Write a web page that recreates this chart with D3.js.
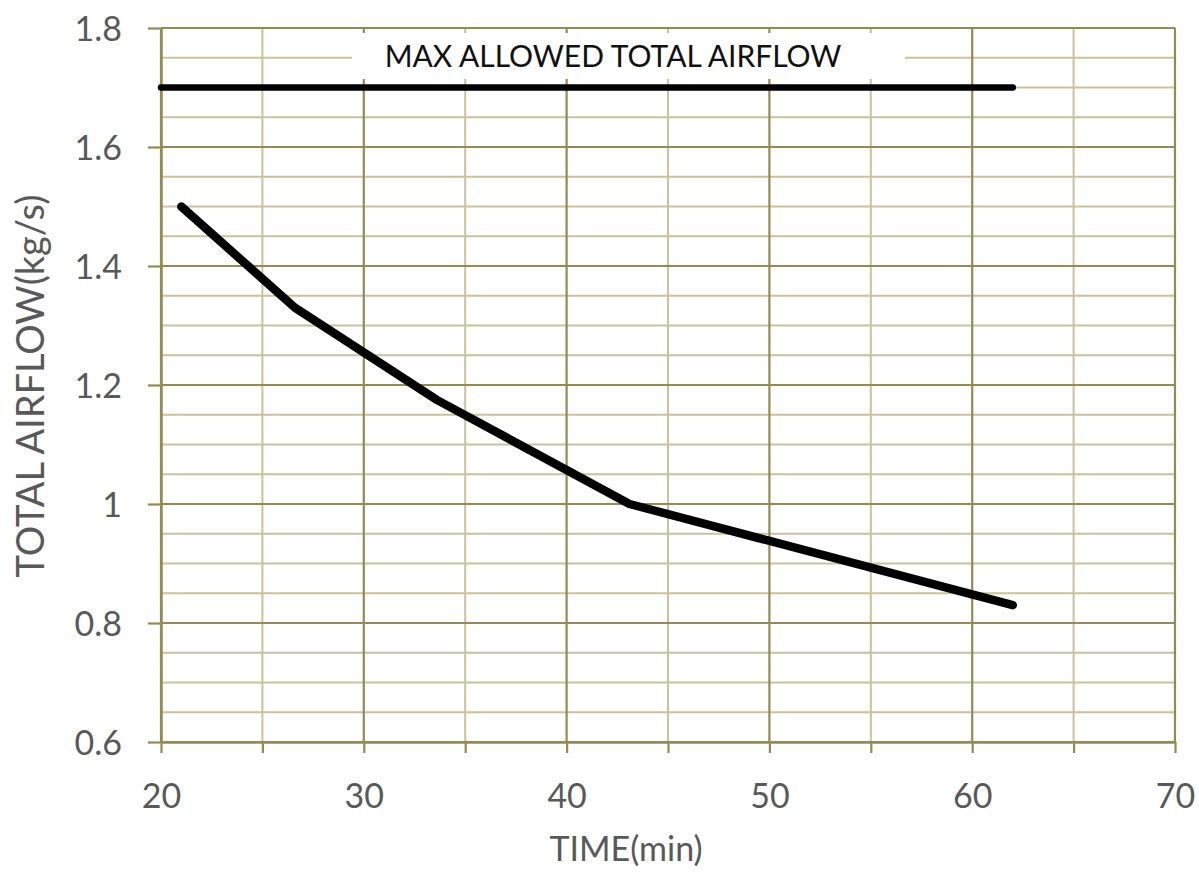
<!DOCTYPE html>
<html>
<head>
<meta charset="utf-8">
<script src="https://cdn.jsdelivr.net/npm/d3@7"></script>
<style>
  html, body { margin: 0; padding: 0; background: #ffffff; }
  svg { display: block; }
  text { font-family: Lato, "Open Sans", sans-serif; }
</style>
</head>
<body>
<svg id="chart" width="1199" height="881"></svg>
<script>
// ---- data ----
const timeMin = [21, 26.6, 33.6, 43.1, 62];
const totalAirflow = [1.5, 1.33, 1.175, 1.0, 0.83];
const maxTime = [20, 62];
const maxAirflow = [1.7, 1.7];
const xTicks = [20, 30, 40, 50, 60, 70];
const yTicks = [0.6, 0.8, 1, 1.2, 1.4, 1.6, 1.8];
const xGrid = [20, 25, 30, 35, 40, 45, 50, 55, 60, 65, 70];
const yGrid = d3.range(0, 25).map(i => +(0.6 + i * 0.05).toFixed(2));
const maxLabel = "MAX ALLOWED TOTAL AIRFLOW";
const xTitle = "TIME(min)";
const yTitle = "TOTAL AIRFLOW(kg/s)";

// ---- layout ----
const pL = 161, pR = 1175, pT = 28, pB = 742;
const dark = "#948a54", light = "#c9c29d", labelColor = "#595959";

const svg = d3.select("#chart");
const x = d3.scaleLinear().domain([20, 70]).range([pL, pR]);
const y = d3.scaleLinear().domain([0.6, 1.8]).range([pB, pT]);

const isMajorY = v => Math.abs(Math.round(v * 10) / 10 - v) < 1e-6 && Math.round(v * 10) % 2 === 0;

// light grid first
const g = svg.append("g");
g.selectAll("line.hy").data(yGrid.filter(v => !isMajorY(v))).join("line")
  .attr("x1", pL).attr("x2", pR)
  .attr("y1", d => y(d)).attr("y2", d => y(d))
  .attr("stroke", light).attr("stroke-width", 2);
g.selectAll("line.vx").data(xGrid.filter(v => v % 10 !== 0)).join("line")
  .attr("y1", pT).attr("y2", pB)
  .attr("x1", d => x(d)).attr("x2", d => x(d))
  .attr("stroke", light).attr("stroke-width", 2);
// dark grid
g.selectAll("line.hyd").data(yGrid.filter(v => isMajorY(v))).join("line")
  .attr("x1", pL).attr("x2", pR)
  .attr("y1", d => y(d)).attr("y2", d => y(d))
  .attr("stroke", dark).attr("stroke-width", 2.2);
g.selectAll("line.vxd").data(xGrid.filter(v => v % 10 === 0)).join("line")
  .attr("y1", pT).attr("y2", pB)
  .attr("x1", d => x(d)).attr("x2", d => x(d))
  .attr("stroke", dark).attr("stroke-width", 2.2);

// axes
const xAxis = d3.axisBottom(x).tickValues(xGrid).tickSize(11).tickSizeOuter(0)
  .tickFormat(d => xTicks.includes(d) ? d : "");
const yAxis = d3.axisLeft(y).tickValues(yTicks).tickSize(13).tickSizeOuter(0)
  .tickFormat(d => d3.format("~g")(d));

const gx = svg.append("g").attr("transform", `translate(0,${pB})`).call(xAxis);
gx.select(".domain").attr("stroke", dark).attr("stroke-width", 2.5);
gx.selectAll(".tick line").attr("stroke", dark).attr("stroke-width", 2.2);
gx.selectAll(".tick text").attr("fill", labelColor).attr("font-size", 34)
  .attr("font-family", "Lato, sans-serif").attr("y", 66).attr("dy", 0);

const gy = svg.append("g").attr("transform", `translate(${pL},0)`).call(yAxis);
gy.select(".domain").attr("stroke", dark).attr("stroke-width", 2.5);
gy.selectAll(".tick line").attr("stroke", dark).attr("stroke-width", 2.2);
gy.selectAll(".tick text").attr("fill", labelColor).attr("font-size", 34)
  .attr("font-family", "Lato, sans-serif").attr("x", -39).attr("dy", "0.36em");

// top border
svg.append("line").attr("x1", pL).attr("x2", pR).attr("y1", pT).attr("y2", pT)
  .attr("stroke", dark).attr("stroke-width", 2.2);

// label box
const lx = 613, ly = 67;
svg.append("rect").attr("x", 352).attr("y", 33).attr("width", 553).attr("height", 46).attr("fill", "#ffffff");
svg.append("text").attr("x", lx).attr("y", ly).attr("text-anchor", "middle")
  .attr("font-size", 30).attr("fill", "#111").text(maxLabel);

// series
const line = d3.line().x(d => x(d[0])).y(d => y(d[1]));
svg.append("path").datum(maxTime.map((t, i) => [t, maxAirflow[i]]))
  .attr("d", line).attr("fill", "none").attr("stroke", "#000").attr("stroke-width", 6.5)
  .attr("stroke-linecap", "round");
svg.append("path").datum(timeMin.map((t, i) => [t, totalAirflow[i]]))
  .attr("d", line).attr("fill", "none").attr("stroke", "#000").attr("stroke-width", 8.5)
  .attr("stroke-linecap", "round").attr("stroke-linejoin", "round");

// titles
svg.append("text").attr("x", 626).attr("y", 861).attr("text-anchor", "middle")
  .attr("font-size", 34).attr("fill", labelColor).text(xTitle);
svg.append("text").attr("transform", "translate(44,386) rotate(-90)").attr("text-anchor", "middle")
  .attr("font-size", 38).attr("fill", labelColor).text(yTitle);
</script>
</body>
</html>
